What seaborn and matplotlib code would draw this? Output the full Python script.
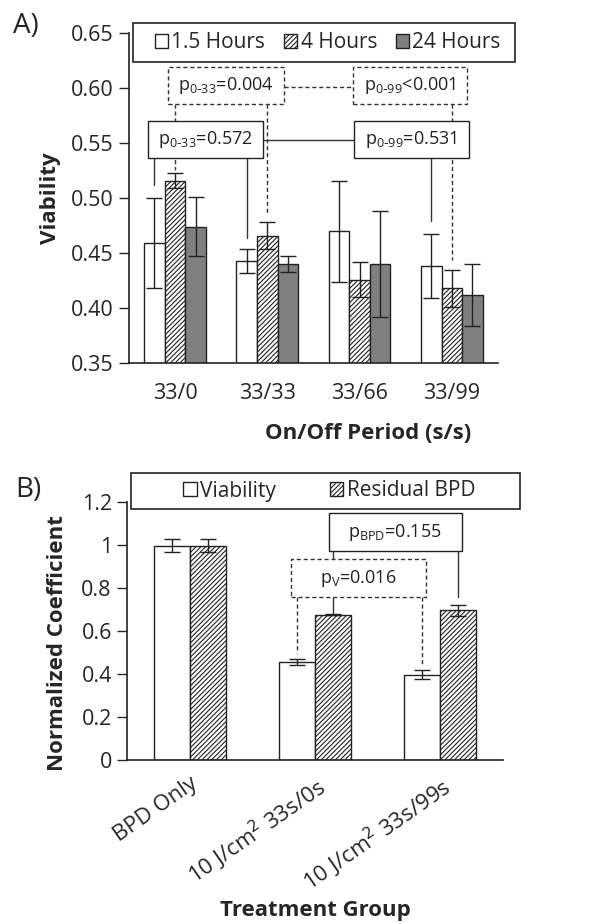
import numpy as np
import pandas as pd
import matplotlib.pyplot as plt
import seaborn as sns
from matplotlib.patches import Rectangle, Patch

# Panel A data
periods = ["33/0", "33/33", "33/66", "33/99"]
times = ["1.5 Hours", "4 Hours", "24 Hours"]
via_15h = [0.459, 0.443, 0.470, 0.438]
via_4h = [0.516, 0.466, 0.426, 0.418]
via_24h = [0.474, 0.440, 0.440, 0.412]
err_15h = [0.041, 0.011, 0.046, 0.029]
err_4h = [0.007, 0.012, 0.016, 0.017]
err_24h = [0.027, 0.007, 0.048, 0.028]

# Panel B data
groups = ["BPD Only", "10 J/cm$^2$ 33s/0s", "10 J/cm$^2$ 33s/99s"]
measures = ["Viability", "Residual BPD"]
norm_via = [0.995, 0.455, 0.395]
norm_bpd = [0.995, 0.675, 0.695]
norm_via_err = [0.03, 0.014, 0.021]
norm_bpd_err = [0.03, 0.003, 0.025]

sns.set_style("white")
plt.rcParams['font.family'] = ['Open Sans', 'DejaVu Sans']
plt.rcParams['hatch.linewidth'] = 0.8
plt.rcParams['hatch.color'] = '#333333'

W, H = 614, 924
fig = plt.figure(figsize=(W / 100, H / 100), dpi=100)
axA = fig.add_axes([0.210, 0.607, 0.601, 0.357])
axB = fig.add_axes([0.207, 0.178, 0.612, 0.279])

fills = ['white', 'white', '#808080']
hatches = ['', '///////', '']


def draw_bars(ax, df, hue_order, width, means, errs):
    sns.barplot(data=df, x='cat', y='val', hue='hue', hue_order=hue_order,
                width=width, errorbar=None, ax=ax, legend=False,
                palette=['white'] * len(hue_order), edgecolor='#222222',
                linewidth=1.0, gap=0)
    centers = {}
    bar_sets = list(ax.containers)
    for i, cont in enumerate(bar_sets):
        for j, bar in enumerate(cont):
            bar.set_facecolor(fills[i])
            bar.set_hatch(hatches[i])
            cx = bar.get_x() + bar.get_width() / 2
            centers[(i, j)] = cx
            ax.errorbar(cx, means[i][j], yerr=errs[i][j], color='#222222',
                        lw=1.0, capsize=5.5, capthick=1.0, zorder=5)
    return centers


def style_axis(ax):
    for s in ['top', 'right']:
        ax.spines[s].set_visible(False)
    for s in ['left', 'bottom']:
        ax.spines[s].set_color('#222222')
        ax.spines[s].set_linewidth(1.2)
    ax.tick_params(axis='y', direction='out', length=7, width=1,
                   labelsize=15.5, left=True, pad=4)


def box(ax, x0, x1, y0, y1, text, dashed):
    ls = (0, (3, 2)) if dashed else '-'
    ax.add_patch(Rectangle((x0, y0), x1 - x0, y1 - y0, facecolor='white',
                           edgecolor='#333333' if dashed else '#222222',
                           lw=1.0, ls=ls, zorder=7, clip_on=False))
    ax.text((x0 + x1) / 2, (y0 + y1) / 2, text, ha='center', va='center',
            fontsize=13, color='#222222', zorder=8)


def vline(ax, x, y0, y1, dashed):
    ls = (0, (3, 2)) if dashed else '-'
    ax.plot([x, x], [y0, y1], color='#333333', lw=1.0, ls=ls, zorder=6)


def hline(ax, x0, x1, y, dashed):
    ls = (0, (3, 2)) if dashed else '-'
    ax.plot([x0, x1], [y, y], color='#333333', lw=1.0, ls=ls, zorder=6)


def legend_box(ax, handles, labels, px_box, colsp):
    x0, y0, x1, y1 = px_box
    frame = Rectangle((x0 / W, 1 - y1 / H), (x1 - x0) / W, (y1 - y0) / H,
                      transform=fig.transFigure, facecolor='white',
                      edgecolor='#222222', lw=1.2, zorder=9, clip_on=False)
    ax.add_artist(frame)
    leg = ax.legend(handles, labels, loc='center', ncol=len(labels),
                    bbox_to_anchor=((x0 + x1) / 2 / W + 0.006, 1 - (y0 + y1) / 2 / H),
                    bbox_transform=fig.transFigure, frameon=False, fontsize=15,
                    handlelength=0.65, handleheight=0.65, handletextpad=0.15,
                    columnspacing=colsp, borderaxespad=0, borderpad=0)
    leg.set_zorder(10)


# ---------- Panel A ----------
dfA = pd.DataFrame({
    'cat': periods * 3,
    'hue': np.repeat(times, len(periods)),
    'val': via_15h + via_4h + via_24h,
})
cA = draw_bars(axA, dfA, times, 0.67, [via_15h, via_4h, via_24h],
               [err_15h, err_4h, err_24h])
axA.set_ylim(0.35, 0.65)
axA.set_xlim(-0.5, 3.5)
yt = np.arange(0.35, 0.651, 0.05)
axA.set_yticks(yt)
axA.set_yticklabels([f"{v:.2f}" for v in yt])
style_axis(axA)
axA.tick_params(axis='x', length=0, labelsize=15.5, pad=14)
axA.set_ylabel("Viability", fontsize=16, fontweight='bold')
axA.yaxis.set_label_coords(-0.185, 0.5)
axA.set_xlabel("On/Off Period (s/s)", fontsize=16, fontweight='bold')
axA.xaxis.set_label_coords(0.648, -0.182)

# dashed comparisons (4 Hours)
vline(axA, cA[(1, 0)], 0.5855, 0.5255, True)
vline(axA, cA[(1, 1)], 0.5855, 0.4845, True)
vline(axA, cA[(1, 3)], 0.5855, 0.4436, True)
hline(axA, 1.185, 1.924, 0.601, True)
box(axA, -0.076, 1.185, 0.5855, 0.619, r"p$_{\mathregular{0\text{-}33}}$=0.004", True)
box(axA, 1.924, 3.163, 0.5855, 0.619, r"p$_{\mathregular{0\text{-}99}}$<0.001", True)
# solid comparisons (1.5 Hours)
vline(axA, cA[(0, 0)], 0.537, 0.512, False)
vline(axA, cA[(0, 1)], 0.537, 0.4636, False)
vline(axA, cA[(0, 3)], 0.537, 0.479, False)
hline(axA, 0.957, 1.935, 0.5527, False)
box(axA, -0.293, 0.957, 0.537, 0.570, r"p$_{\mathregular{0\text{-}33}}$=0.572", False)
box(axA, 1.935, 3.185, 0.537, 0.570, r"p$_{\mathregular{0\text{-}99}}$=0.531", False)

handlesA = [Patch(facecolor=fills[i], hatch=hatches[i], edgecolor='#222222', lw=1.0)
            for i in range(3)]
legend_box(axA, handlesA, times, (133, 23, 515, 62), 0.9)

# ---------- Panel B ----------
dfB = pd.DataFrame({
    'cat': groups * 2,
    'hue': np.repeat(measures, len(groups)),
    'val': norm_via + norm_bpd,
})
cB = draw_bars(axB, dfB, measures, 0.574, [norm_via, norm_bpd],
               [norm_via_err, norm_bpd_err])
axB.set_ylim(0, 1.2)
axB.set_xlim(-0.5, 2.5)
axB.set_yticks([0, 0.2, 0.4, 0.6, 0.8, 1.0, 1.2])
axB.set_yticklabels(["0", "0.2", "0.4", "0.6", "0.8", "1", "1.2"])
style_axis(axB)
axB.tick_params(axis='x', length=0, labelsize=16, pad=10)
for lab in axB.get_xticklabels():
    lab.set_rotation(35)
    lab.set_ha('right')
    lab.set_rotation_mode('anchor')
axB.set_ylabel("Normalized Coefficient", fontsize=16, fontweight='bold')
axB.yaxis.set_label_coords(-0.157, 0.451)
axB.set_xlabel("Treatment Group", fontsize=16, fontweight='bold')
axB.xaxis.set_label_coords(0.5, -0.545)

vline(axB, cB[(1, 1)], 0.970, norm_bpd[1] + norm_bpd_err[1], False)
vline(axB, cB[(1, 2)], 0.970, 0.757, False)
box(axB, 1.108, 2.175, 0.970, 1.147, r"p$_{\mathregular{BPD}}$=0.155", False)
vline(axB, cB[(0, 1)], 0.756, 0.495, True)
vline(axB, cB[(0, 2)], 0.756, 0.444, True)
box(axB, 0.805, 1.888, 0.756, 0.933, r"p$_{\mathregular{V}}$=0.016", True)

handlesB = [Patch(facecolor='white', hatch=hatches[i], edgecolor='#222222', lw=1.0)
            for i in range(2)]
legend_box(axB, handlesB, measures, (131, 473, 520, 509), 2.6)

fig.text(13 / W, 1 - 26 / H, "A)", fontsize=20, va='center', ha='left')
fig.text(15 / W, 1 - 490 / H, "B)", fontsize=20, va='center', ha='left')

fig.savefig("out.png", dpi=100)
